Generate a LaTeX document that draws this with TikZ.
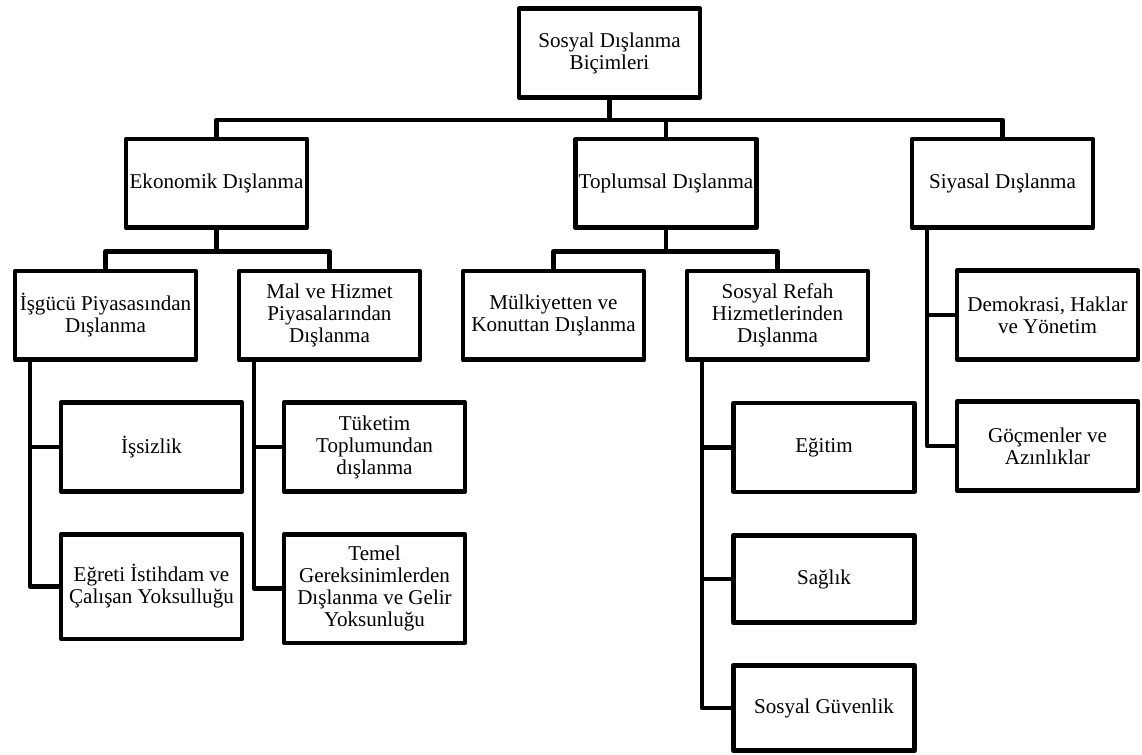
\documentclass[tikz,border=0pt]{standalone}
\usepackage{fontspec}
\setmainfont{Liberation Serif}

\begin{document}
\begin{tikzpicture}[x=0.75pt,y=-0.75pt]
    \tikzset{
        kutu/.style={draw,line width=3.4pt,line join=round,inner sep=0pt,align=center,
            minimum width=136pt,minimum height=66.4pt,font=\fontsize{15.8}{16.5}\selectfont},
        dal/.style={line width=3.4pt,line join=round}
    }
    \useasboundingbox (0,0) rectangle (1142,755);
    % ust seviye
    \node[kutu] (kok) at (609.5,53) {Sosyal Dışlanma\\Biçimleri};
    \node[kutu] (ekonomik) at (216.5,183.5) {Ekonomik Dışlanma};
    \node[kutu] (toplumsal) at (666,183.5) {Toplumsal Dışlanma};
    \node[kutu] (siyasal) at (1002.5,183.5) {Siyasal Dışlanma};
    % ikinci seviye
    \node[kutu] (isgucu) at (105.5,315.5) {İşgücü Piyasasından\\Dışlanma};
    \node[kutu] (mal) at (329.5,315.5) {Mal ve Hizmet\\Piyasalarından\\Dışlanma};
    \node[kutu] (mulkiyet) at (553.5,315.5) {Mülkiyetten ve\\Konuttan Dışlanma};
    \node[kutu] (refah) at (777.5,315.5) {Sosyal Refah\\Hizmetlerinden\\Dışlanma};
    \node[kutu] (demokrasi) at (1047.5,315) {Demokrasi, Haklar\\ve Yönetim};
    % yapraklar
    \node[kutu] (issizlik) at (151.5,447) {İşsizlik};
    \node[kutu,minimum height=78.4pt] (egreti) at (151.5,586.5) {Eğreti İstihdam ve\\Çalışan Yoksulluğu};
    \node[kutu] (tuketim) at (374.5,447) {Tüketim\\Toplumundan\\dışlanma};
    \node[kutu,minimum height=81.4pt] (temel) at (374.5,588.5) {Temel\\Gereksinimlerden\\Dışlanma ve Gelir\\Yoksunluğu};
    \node[kutu] (egitim) at (824,447.5) {Eğitim};
    \node[kutu,minimum height=65.6pt] (saglik) at (824,579) {Sağlık};
    \node[kutu,minimum height=64.1pt] (guvenlik) at (824,708) {Sosyal Güvenlik};
    \node[kutu] (gocmen) at (1047.5,446) {Göçmenler ve\\Azınlıklar};

    \foreach \n in {ekonomik,toplumsal,siyasal}
        \draw[dal] (kok.south) -- ++(0,20.5) -| (\n.north);
    \foreach \u/\a in {ekonomik/isgucu,ekonomik/mal,toplumsal/mulkiyet,toplumsal/refah}
        \draw[dal] (\u.south) -- ++(0,21.5) -| (\a.north);
    \foreach \u/\a in {isgucu/issizlik,isgucu/egreti,mal/tuketim,mal/temel,
            refah/egitim,refah/saglik,refah/guvenlik,siyasal/demokrasi,siyasal/gocmen}
        \draw[dal] ([xshift=13pt]\u.south west) |- (\a.west);
\end{tikzpicture}
\end{document}
